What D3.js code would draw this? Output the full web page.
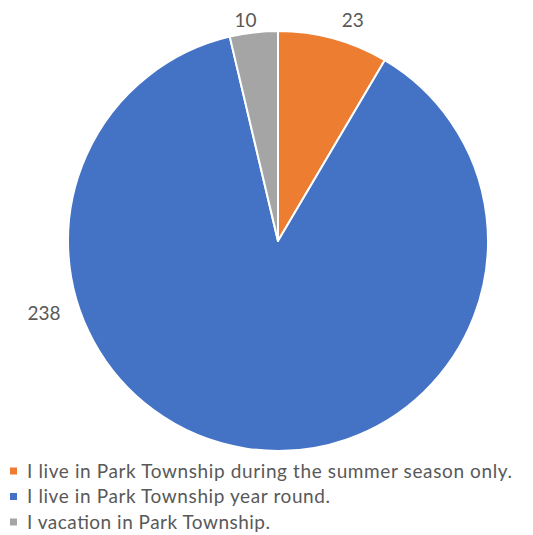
<!DOCTYPE html>
<html><head><meta charset="utf-8">
<script src="https://cdn.jsdelivr.net/npm/d3@7"></script>
<style>body{margin:0;background:#fff}svg{display:block}</style>
</head><body><svg id="c" width="533" height="535"></svg>
<script>
const categories = ["I live in Park Township during the summer season only.","I live in Park Township year round.","I vacation in Park Township."];
const values = [23, 238, 10];
const colors = ["#ED7D31", "#4472C4", "#A5A5A5"];

const svg = d3.select("#c");
const cx = 278, cy = 241, r = 210;
const pie = d3.pie().sort(null).value(d => d)(values);
const arc = d3.arc().innerRadius(0).outerRadius(r);
const g = svg.append("g").attr("transform", `translate(${cx},${cy})`);
g.selectAll("path").data(pie).join("path")
  .attr("d", arc).attr("fill", (d,i) => colors[i])
  .attr("stroke", "#fff").attr("stroke-width", 2).attr("stroke-linejoin","round");

// labels
g.selectAll("text.lbl").data(pie).join("text").attr("class","lbl")
  .attr("transform", (d,i) => {
    let a = (d.startAngle + d.endAngle) / 2;
    let rr = r + 22;
    if (i === 0) { a += 0.06; rr = r + 23; }
    if (i === 1) { a = -Math.PI / 2 - 0.3; rr = r + 35; }
    if (i === 2) { a -= 0.03; rr = r + 13; }
    return `translate(${Math.sin(a)*rr},${-Math.cos(a)*rr})`;
  })
  .attr("text-anchor","middle").attr("dy","0.35em")
  .attr("font-family","Lato, 'Open Sans', sans-serif").attr("font-size",19)
  .attr("fill","#595959").text(d => d.data);

// legend
const lg = svg.append("g");
const rows = lg.selectAll("g").data(categories).join("g")
  .attr("transform", (d,i) => `translate(10,${471 + i*25.5})`);
rows.append("rect").attr("x",0).attr("y",-3.5).attr("width",7).attr("height",7).attr("fill",(d,i)=>colors[i]);
const widths = [485, 303, 243];
rows.append("text").attr("x",17).attr("dy","0.35em")
  .attr("font-family","Lato, 'Open Sans', sans-serif").attr("font-size",19)
  .attr("fill","#595959").attr("textLength",(d,i)=>widths[i]).attr("lengthAdjust","spacing")
  .text(d => d);
</script></body></html>
